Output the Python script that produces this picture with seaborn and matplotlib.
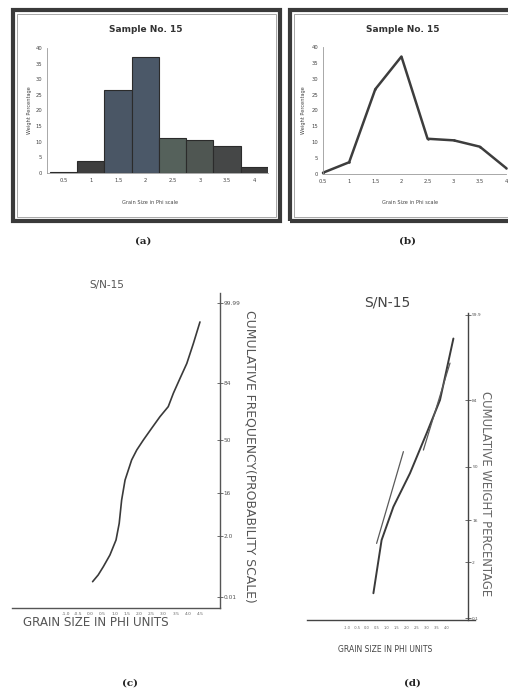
import numpy as np
import pandas as pd
import matplotlib
matplotlib.use('Agg')
import matplotlib.pyplot as plt
import seaborn as sns
from matplotlib.patches import Rectangle

sns.set_theme(style='white')
plt.rcParams['font.family'] = ['DejaVu Sans']

# ---------------- data ----------------
phi_classes = ['0.5', '1', '1.5', '2', '2.5', '3', '3.5', '4']
weight_pct = [0.4, 3.7, 26.7, 37.0, 11.1, 10.6, 8.6, 1.9]
ab_yticks = [0, 5, 10, 15, 20, 25, 30, 35, 40]
bar_colors = ['#3a3a3a', '#3e3e3e', '#4a5665', '#4b5868', '#55615b', '#4f5652', '#454747', '#3c3c3c']

# (c) cumulative curve on probability paper
c_phi = [0.09, 0.32, 0.53, 0.80, 1.05, 1.18, 1.28, 1.42, 1.69, 1.90,
         2.17, 2.51, 2.85, 3.19, 3.40, 3.67, 3.95, 4.22, 4.49]
c_pct = [0.51, 0.73, 1.0, 1.38, 1.87, 6.1, 13.7, 24.3, 37.2, 43.6,
         50.0, 57.0, 63.9, 69.9, 77.9, 84.9, 87.9, 91.9, 96.2]
c_phi_ticks = [-1.0, -0.5, 0.0, 0.5, 1.0, 1.5, 2.0, 2.5, 3.0, 3.5, 4.0, 4.5]
c_prob_ticks = [0.01, 2, 16, 50, 84, 99.99]
c_prob_labels = ['0.01', '2.0', '16', '50', '84', '99.99']

# (d) cumulative weight percentage with fitted segments
d_main_phi = [0.32, 0.73, 1.32, 2.15, 2.98, 3.65, 4.32]
d_main_pct = [0.94, 9.3, 24.5, 46.0, 67.1, 84.0, 95.5]
d_seg1_phi = [0.48, 1.82]
d_seg1_pct = [8.2, 57.8]
d_seg2_phi = [2.82, 4.15]
d_seg2_pct = [58.6, 90.9]
d_phi_ticks = [-1.0, -0.5, 0.0, 0.5, 1.0, 1.5, 2.0, 2.5, 3.0, 3.5, 4.0]
d_prob_ticks = [0.1, 2, 16, 50, 84, 99.9]
d_prob_labels = ['0.1', '2', '16', '50', '84', '99.9']

# ---------------- layout helpers ----------------
W, H = 508, 690
fig = plt.figure(figsize=(W / 100, H / 100), dpi=100)
fig.patch.set_facecolor('white')


def box(x0, y0, x1, y1):
    return [x0 / W, 1 - y1 / H, (x1 - x0) / W, (y1 - y0) / H]


def ftext(x, y, s, **kw):
    return fig.text(x / W, 1 - y / H, s, **kw)


def frame(x0, y0, x1, y1):
    fig.add_artist(Rectangle((x0 / W, 1 - y1 / H), (x1 - x0) / W, (y1 - y0) / H,
                             transform=fig.transFigure, fill=False,
                             lw=3.0, ec='#3a3a3a'))
    fig.add_artist(Rectangle(((x0 + 4) / W, 1 - (y1 - 4) / H), (x1 - x0 - 8) / W, (y1 - y0 - 8) / H,
                             transform=fig.transFigure, fill=False,
                             lw=0.6, ec='#9a9a9a'))


def small_axes_style(ax):
    for s in ['top', 'right']:
        ax.spines[s].set_visible(False)
    for s in ['left', 'bottom']:
        ax.spines[s].set_color('#9a9a9a')
        ax.spines[s].set_linewidth(0.6)
    ax.tick_params(axis='both', labelsize=3.8, colors='#444', length=1.5, width=0.5, pad=2)
    ax.set_ylim(0, 40)
    ax.set_yticks(ab_yticks)
    ax.set_xlabel('')
    ax.set_ylabel('')


def prob_scale(knot_pct, knot_h):
    def fwd(v):
        return np.interp(v, knot_pct, knot_h)

    def inv(h):
        return np.interp(h, knot_h, knot_pct)
    return fwd, inv


# ---------------- (a) histogram ----------------
frame(13, 10, 280, 221)
ax_a = fig.add_axes(box(47, 48, 268, 173))
df_a = pd.DataFrame({'phi': phi_classes, 'w': weight_pct})
sns.barplot(data=df_a, x='phi', y='w', hue='phi', palette=bar_colors, legend=False,
            width=1.0, edgecolor='#2b2b2b', linewidth=0.8, saturation=1, ax=ax_a)
ax_a.set_xlim(-0.61, 7.5)
small_axes_style(ax_a)
ftext(146, 29, 'Sample No. 15', fontsize=6.5, fontweight='bold', ha='center', va='center', color='#333')
ftext(30, 110, 'Weight Percentage', fontsize=3.6, rotation=90, ha='center', va='center', color='#444')
ftext(150, 203, 'Grain Size in Phi scale', fontsize=3.6, ha='center', va='center', color='#444')

# ---------------- (b) frequency curve ----------------
frame(290, 10, 514, 221)
ax_b = fig.add_axes(box(323, 47, 506, 174))
df_b = pd.DataFrame({'pos': np.arange(len(phi_classes)), 'w': weight_pct})
sns.lineplot(data=df_b, x='pos', y='w', color='#3d3d3d', lw=1.8, marker='o',
             markersize=1.8, markeredgewidth=0, ax=ax_b, clip_on=False)
ax_b.set_xlim(0, 7)
ax_b.set_xticks(np.arange(len(phi_classes)))
ax_b.set_xticklabels(phi_classes)
small_axes_style(ax_b)
ftext(403, 29, 'Sample No. 15', fontsize=6.5, fontweight='bold', ha='center', va='center', color='#333')
ftext(303, 110, 'Weight Percentage', fontsize=3.6, rotation=90, ha='center', va='center', color='#444')
ftext(410, 203, 'Grain Size in Phi scale', fontsize=3.6, ha='center', va='center', color='#444')

# panel letters
serif = ['DejaVu Serif']
ftext(143, 241, '(a)', fontsize=7.5, fontweight='bold', family=serif, ha='center', va='center', color='#222')
ftext(408, 241, '(b)', fontsize=7.5, fontweight='bold', family=serif, ha='center', va='center', color='#222')
ftext(130, 683, '(c)', fontsize=7.5, fontweight='bold', family=serif, ha='center', va='center', color='#222')
ftext(412, 683, '(d)', fontsize=7.5, fontweight='bold', family=serif, ha='center', va='center', color='#222')

# ---------------- (c) cumulative curve ----------------
ax_c = fig.add_axes(box(12, 293, 220, 608))
ax_c.set_facecolor('none')
fwd_c, inv_c = prob_scale([0, 0.01, 2, 16, 50, 84, 99.99, 100],
                          [0, 11, 72, 115, 168, 225, 305, 315])
ax_c.set_yscale('function', functions=(fwd_c, inv_c))
df_c = pd.DataFrame({'phi': c_phi, 'pct': c_pct})
sns.lineplot(data=df_c, x='phi', y='pct', sort=False, color='#3a3a3a', lw=1.2, ax=ax_c)
ax_c.set_xlim(-3.213, 5.311)
ax_c.set_ylim(0, 100)
for s in ['top', 'left']:
    ax_c.spines[s].set_visible(False)
for s in ['bottom', 'right']:
    ax_c.spines[s].set_color('#555')
    ax_c.spines[s].set_linewidth(1.0)
ax_c.yaxis.tick_right()
ax_c.set_yticks(c_prob_ticks)
ax_c.set_yticklabels(c_prob_labels)
ax_c.yaxis.set_minor_locator(matplotlib.ticker.NullLocator())
ax_c.set_xticks(c_phi_ticks)
ax_c.set_xticklabels([f'{v:.1f}' for v in c_phi_ticks])
ax_c.tick_params(axis='y', labelsize=4.2, colors='#555', length=4, width=0.6, direction='inout', pad=0.5)
ax_c.tick_params(axis='x', labelsize=3.2, colors='#666', length=3, width=0.5, direction='inout', pad=1.5)
ax_c.set_xlabel('')
ax_c.set_ylabel('')
ftext(107, 285, 'S/N-15', fontsize=7.5, ha='center', va='center', color='#555')
ftext(23, 623, 'GRAIN SIZE IN PHI UNITS', fontsize=8.6, ha='left', va='center', color='#555')
ftext(250, 456, 'CUMULATIVE FREQUENCY(PROBABILITY SCALE)', fontsize=8.9, rotation=270,
      ha='center', va='center', color='#555')

# ---------------- (d) cumulative weight percentage ----------------
ax_d = fig.add_axes(box(307, 313, 475, 620))
ax_d.set_facecolor('none')
fwd_d, inv_d = prob_scale([0, 0.1, 2, 16, 50, 84, 99.9, 100],
                          [0, 2, 58, 100, 153, 220, 305, 307])
ax_d.set_yscale('function', functions=(fwd_d, inv_d))
sns.lineplot(x=d_main_phi, y=d_main_pct, sort=False, color='#3a3a3a', lw=1.4, ax=ax_d)
sns.lineplot(x=d_seg1_phi, y=d_seg1_pct, sort=False, color='#5a5a5a', lw=0.9, ax=ax_d)
sns.lineplot(x=d_seg2_phi, y=d_seg2_pct, sort=False, color='#5a5a5a', lw=0.9, ax=ax_d)
ax_d.set_xlim(-3.0, 5.4)
ax_d.set_ylim(0, 100)
for s in ['top', 'left']:
    ax_d.spines[s].set_visible(False)
for s in ['bottom', 'right']:
    ax_d.spines[s].set_color('#444')
    ax_d.spines[s].set_linewidth(1.0)
ax_d.spines['right'].set_position(('data', 5.05))
ax_d.yaxis.tick_right()
ax_d.set_yticks(d_prob_ticks)
ax_d.set_yticklabels(d_prob_labels)
ax_d.yaxis.set_minor_locator(matplotlib.ticker.NullLocator())
ax_d.set_xticks(d_phi_ticks)
ax_d.set_xticklabels([f'{v:.1f}' for v in d_phi_ticks])
ax_d.tick_params(axis='y', labelsize=3.2, colors='#555', length=4, width=0.6, direction='inout', pad=1)
ax_d.tick_params(axis='x', labelsize=2.6, colors='#666', length=5, width=0.6, direction='inout', pad=1.5)
ax_d.set_xlabel('')
ax_d.set_ylabel('')
ftext(387, 303, 'S/N-15', fontsize=10, ha='center', va='center', color='#444')
ftext(385, 650, 'GRAIN SIZE IN PHI UNITS', fontsize=5.5, ha='center', va='center', color='#444')
ftext(486, 494, 'CUMULATIVE WEIGHT PERCENTAGE', fontsize=8.4, rotation=270,
      ha='center', va='center', color='#666')

fig.savefig('out.png', dpi=100, facecolor='white')
